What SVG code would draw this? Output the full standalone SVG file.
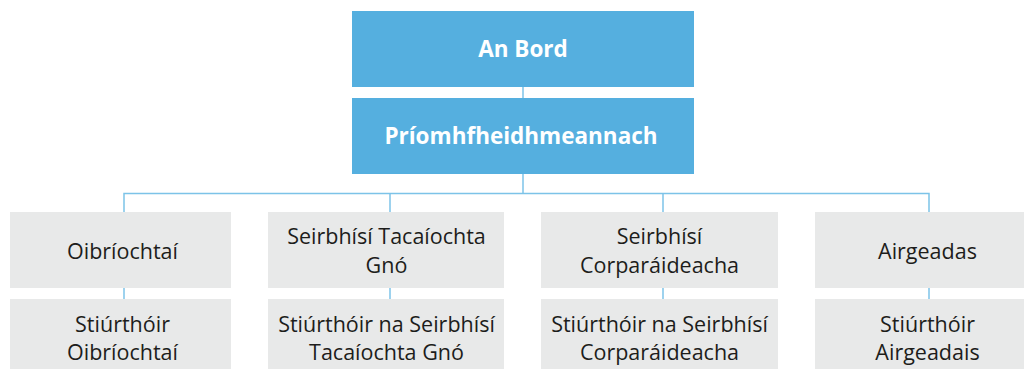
<svg xmlns="http://www.w3.org/2000/svg" width="1024" height="369" viewBox="0 0 1024 369">
<style>
.top{fill:#55afdf}
.box{fill:#e8e9e9}
.tb{font-family:"Open Sans","Noto Sans",sans-serif;font-weight:bold;font-size:22.5px;fill:#ffffff;text-anchor:middle}
.t{font-family:"Open Sans","Noto Sans",sans-serif;font-size:21.5px;fill:#1d1d1b;text-anchor:middle}
.c{stroke:#7cc3e8;stroke-width:1.5;fill:none}
</style>
<rect width="1024" height="369" fill="#ffffff"/>
<g id="connectors">
<path class="c" d="M523 87V98"/>
<path class="c" d="M523 174V193.5"/>
<path class="c" d="M124 212V193.5H929V212"/>
<path class="c" d="M390 193.5V212"/>
<path class="c" d="M663 193.5V212"/>
<path class="c" d="M124 288V299"/>
<path class="c" d="M390 288V299"/>
<path class="c" d="M663 288V299"/>
<path class="c" d="M929 288V299"/>
</g>
<g id="an-bord">
<rect class="top" x="352" y="11" width="342" height="76"/>
<text class="tb" x="523" y="57">An Bord</text>
</g>
<g id="priomhfheidhmeannach">
<rect class="top" x="352" y="98" width="342" height="76"/>
<text class="tb" x="521" y="144">Príomhfheidhmeannach</text>
</g>
<g id="oibriochtai">
<rect class="box" x="10" y="212" width="221" height="76"/>
<text class="t" x="122.5" y="259">Oibríochtaí</text>
</g>
<g id="seirbhisi-tacaiochta-gno">
<rect class="box" x="268" y="212" width="236" height="76"/>
<text class="t" x="386.5" y="244">Seirbhísí Tacaíochta</text>
<text class="t" x="386.5" y="273">Gnó</text>
</g>
<g id="seirbhisi-corparaideacha">
<rect class="box" x="541" y="212" width="237" height="76"/>
<text class="t" x="659.5" y="244">Seirbhísí</text>
<text class="t" x="659.5" y="273">Corparáideacha</text>
</g>
<g id="airgeadas">
<rect class="box" x="815" y="212" width="225" height="76"/>
<text class="t" x="927.5" y="259">Airgeadas</text>
</g>
<g id="stiurthoir-oibriochtai">
<rect class="box" x="10" y="299" width="221" height="76"/>
<text class="t" x="122.5" y="331.5">Stiúrthóir</text>
<text class="t" x="122.5" y="360">Oibríochtaí</text>
</g>
<g id="stiurthoir-tacaiochta-gno">
<rect class="box" x="268" y="299" width="236" height="76"/>
<text class="t" x="386.5" y="331.5">Stiúrthóir na Seirbhísí</text>
<text class="t" x="386.5" y="360">Tacaíochta Gnó</text>
</g>
<g id="stiurthoir-corparaideacha">
<rect class="box" x="541" y="299" width="237" height="76"/>
<text class="t" x="659.5" y="331.5">Stiúrthóir na Seirbhísí</text>
<text class="t" x="659.5" y="360">Corparáideacha</text>
</g>
<g id="stiurthoir-airgeadais">
<rect class="box" x="815" y="299" width="225" height="76"/>
<text class="t" x="927.5" y="331.5">Stiúrthóir</text>
<text class="t" x="927.5" y="360">Airgeadais</text>
</g>
</svg>
